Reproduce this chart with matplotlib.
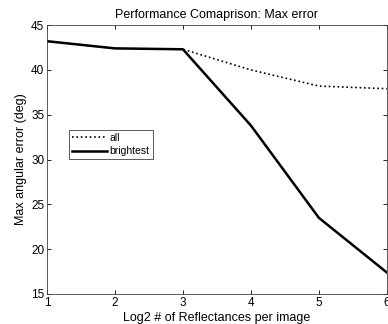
import matplotlib
matplotlib.use("Agg")
import matplotlib.pyplot as plt

plt.rcParams['font.family'] = ['Liberation Sans', 'DejaVu Sans']

x = [1, 2, 3, 4, 5, 6]
all_err = [43.2, 42.4, 42.3, 40.0, 38.2, 37.9]
brightest_err = [43.2, 42.4, 42.3, 33.8, 23.5, 17.4]
xticks = [1, 2, 3, 4, 5, 6]
yticks = [15, 20, 25, 30, 35, 40, 45]

fig = plt.figure(figsize=(3.88, 3.24), dpi=100)
ax = fig.add_axes([0.121, 0.0926, 0.876, 0.830])
ax.plot(x, all_err, color='black', linestyle=':', linewidth=1.2, label='all')
ax.plot(x, brightest_err, color='black', linestyle='-', linewidth=1.8, label='brightest')
ax.set_xlim(1, 6)
ax.set_ylim(15, 45)
ax.set_xticks(xticks)
ax.set_yticks(yticks)
ax.tick_params(direction='in', length=3, labelsize=8.5, top=True, right=True, width=0.6, pad=2)
for s in ax.spines.values():
    s.set_linewidth(0.6)
    s.set_color('#404040')
ax.set_title('Performance Comaprison: Max error', fontsize=9, pad=5)
ax.set_xlabel('Log2 # of Reflectances per image', fontsize=9, labelpad=2)
ax.set_ylabel('Max angular error (deg)', fontsize=9, labelpad=3)
leg = ax.legend(loc='upper left', bbox_to_anchor=(0.065, 0.61), fontsize=7.5,
                fancybox=False, framealpha=1, edgecolor='#404040',
                handlelength=3.3, borderpad=0.3, labelspacing=0.3, handletextpad=0.3,
                borderaxespad=0)
leg.get_frame().set_linewidth(0.6)
fig.savefig('out.png', dpi=100)
